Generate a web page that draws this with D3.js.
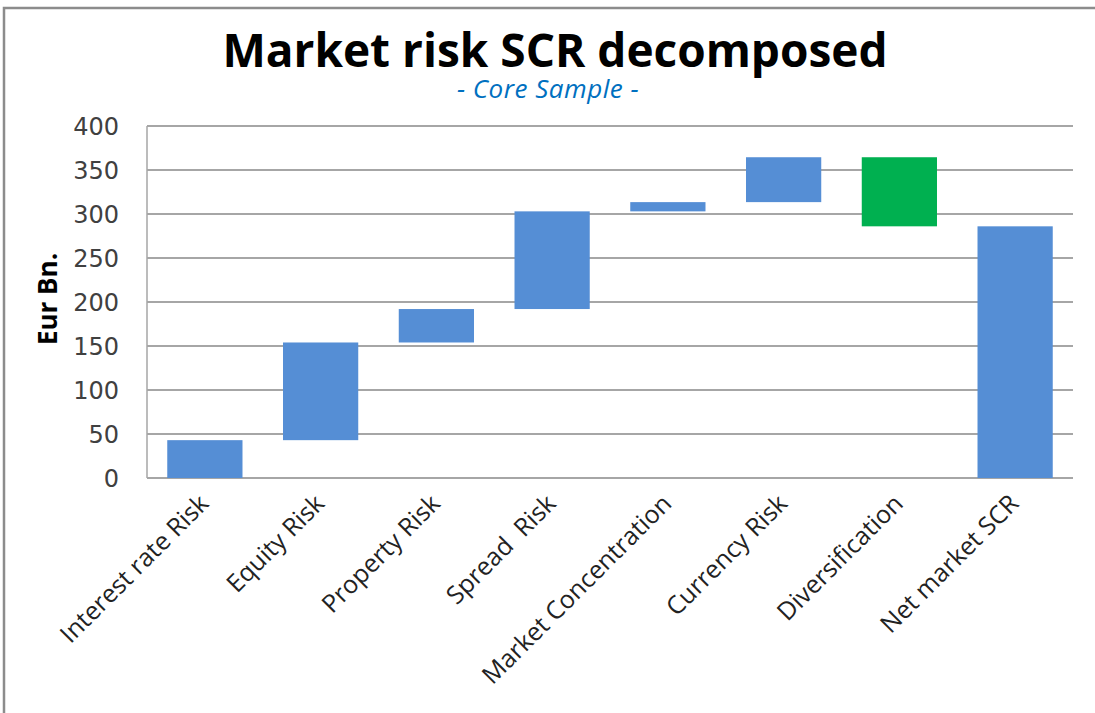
<!DOCTYPE html>
<html>
<meta charset="utf-8">
<style>
body { margin: 0; background: #fff; }
.grid line { stroke: #a6a6a6; stroke-width: 1.5; shape-rendering: crispEdges; }
.axis path, .axis line { display: none; }
.y.axis text { font: 24px "DejaVu Sans", sans-serif; fill: #404040; }
.x.axis text { font: 25px "Open Sans", sans-serif; fill: #222; }
</style>
<body>
<script src="https://d3js.org/d3.v7.min.js"></script>
<script>
// categories and step values (Eur Bn.)
var categories = ["Interest rate Risk", "Equity Risk", "Property Risk", "Spread  Risk",
	"Market Concentration", "Currency Risk", "Diversification", "Net market SCR"];
var steps = [43, 111, 38, 111, 10.5, 51, -78.5];
var netTotal = 286;
var yTicks = [0, 50, 100, 150, 200, 250, 300, 350, 400];

var W = 1095, H = 713;
var margin = {top: 126, right: 22, bottom: 235, left: 147},
	width = W - margin.left - margin.right,
	height = H - margin.top - margin.bottom;

// build waterfall segments
var bars = [], run = 0;
steps.forEach(function(v, i) {
	bars.push({cat: categories[i], y0: run, y1: run + v, neg: v < 0});
	run += v;
});
bars.push({cat: categories[7], y0: 0, y1: netTotal, neg: false});

var svg = d3.select("body").append("svg")
	.attr("width", W)
	.attr("height", H);

// outer frame
svg.append("path")
	.attr("d", "M4," + H + "V8H" + W)
	.attr("fill", "none")
	.attr("stroke", "#8c8c8c")
	.attr("stroke-width", 2.5);

svg.append("text")
	.attr("x", 555).attr("y", 67)
	.attr("text-anchor", "middle")
	.style("font", "bold 46px 'Open Sans', sans-serif")
	.attr("fill", "#000")
	.text("Market risk SCR decomposed");

svg.append("text")
	.attr("x", 548).attr("y", 98)
	.attr("text-anchor", "middle")
	.style("font", "italic 26px 'Open Sans', sans-serif")
	.style("letter-spacing", "0.5px")
	.attr("fill", "#0070c0")
	.text("- Core Sample -");

var g = svg.append("g")
	.attr("transform", "translate(" + margin.left + "," + margin.top + ")");

var x = d3.scaleBand().domain(categories).range([0, width]).paddingInner(0.35).paddingOuter(0.175);
var y = d3.scaleLinear().domain([0, 400]).range([height, 0]);

g.append("g").attr("class", "grid")
	.selectAll("line").data(yTicks).enter().append("line")
	.attr("x1", 0).attr("x2", width)
	.attr("y1", function(d) { return y(d); })
	.attr("y2", function(d) { return y(d); });

g.append("line")
	.attr("x1", 0).attr("x2", 0).attr("y1", 0).attr("y2", height)
	.attr("stroke", "#a6a6a6").attr("stroke-width", 1.5);

g.selectAll("rect.bar").data(bars).enter().append("rect")
	.attr("class", "bar")
	.attr("x", function(d) { return x(d.cat); })
	.attr("width", x.bandwidth())
	.attr("y", function(d) { return y(Math.max(d.y0, d.y1)); })
	.attr("height", function(d) { return Math.abs(y(d.y0) - y(d.y1)); })
	.attr("fill", function(d) { return d.neg ? "#00b050" : "#558ed5"; });

g.append("g").attr("class", "y axis")
	.attr("transform", "translate(-28,0)")
	.call(d3.axisLeft(y).tickValues(yTicks).tickSize(0).tickPadding(0))
	.selectAll("text").attr("dy", "0.36em");

g.append("g").attr("class", "x axis")
	.attr("transform", "translate(0," + height + ")")
	.call(d3.axisBottom(x).tickSize(0))
	.selectAll("text")
	.style("text-anchor", "end")
	.attr("dy", 0)
	.attr("transform", "translate(3,25) rotate(-45)")
	.style("white-space", "pre");

svg.append("text")
	.attr("transform", "translate(57,299) rotate(-90)")
	.attr("text-anchor", "middle")
	.style("font", "bold 26px 'Open Sans', sans-serif")
	.attr("fill", "#000")
	.text("Eur Bn.");
</script>
</body>
</html>
